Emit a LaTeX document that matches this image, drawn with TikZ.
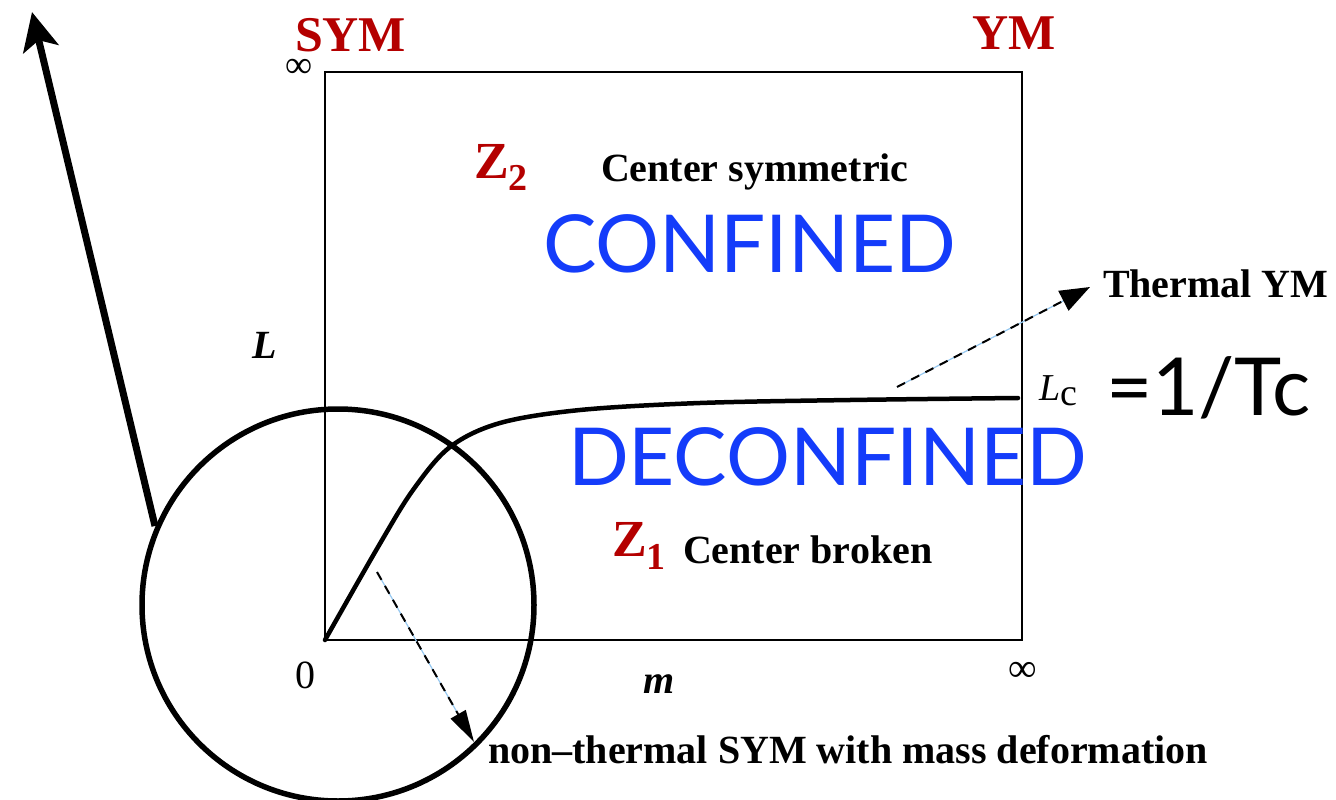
\documentclass[tikz,border=0pt]{standalone}
\usepackage{fontspec}
\setmainfont{Liberation Serif}
\newfontfamily\gill{Lato}
\usetikzlibrary{arrows.meta}
\definecolor{symred}{RGB}{180,0,0}
\definecolor{phblue}{RGB}{20,60,250}
\definecolor{lblue}{RGB}{150,200,240}
\begin{document}
\begin{tikzpicture}[x=1pt,y=-1pt,
  lbl/.style={inner sep=0pt, outer sep=0pt, anchor=base west},
  redlbl/.style={lbl, text=symred, font=\fontsize{50}{50}\selectfont\bfseries},
  blk/.style={lbl, font=\fontsize{40}{40}\selectfont\bfseries},
  plain/.style={lbl, font=\fontsize{40}{40}\selectfont},
  phase/.style={lbl, text=phblue, font=\fontsize{80}{80}\selectfont\gill},
  frame/.style={line width=1.8pt},
  phaseline/.style={line width=4.5pt, line join=round, line cap=round},
  ring/.style={line width=5.5pt},
  bigarrow/.style={line width=7pt, -{Stealth[length=38pt,width=36pt,inset=9pt]}},
  underlay/.style={lblue, line width=1.2pt},
  dasharrow/.style={line width=2pt, dash pattern=on 9pt off 7pt, -{Triangle[length=30pt,width=22pt]}}
]
\useasboundingbox (0,0) rectangle (1336,800);

% frame
\coordinate (o) at (325,640);
\coordinate (tl) at (325,72);
\coordinate (tr) at (1022,72);
\coordinate (br) at (1022,640);
\draw[frame] (o) -- (tl) -- (tr) -- (br) -- cycle;

% labels of the frame
\node[redlbl] (sym) at (295,52) {SYM};
\node[redlbl] (ym) at (972,50) {YM};
\node[plain, anchor=center, font=\fontsize{38}{38}\selectfont] (inftop) at (299,68) {∞};
\node[plain, anchor=center] (infbot) at (1023,672) {∞};
\node[plain, anchor=base] (zero) at (305,688) {0};
\node[blk, font=\fontsize{40}{40}\selectfont\bfseries\itshape] (mlab) at (643,693) {m};
\node[blk, font=\fontsize{40}{40}\selectfont\bfseries\itshape] (llab) at (252,358) {L};

% regions
\node[lbl, text=symred, font=\fontsize{52}{52}\selectfont\bfseries] (z2) at (474,178) {Z\raisebox{-12pt}{\fontsize{38}{38}\selectfont 2}};
\node[blk] (csym) at (601,181) {Center symmetric};
\node[phase] (conf) at (543,272) {CONFINED};
\node[phase] (deconf) at (568,485) {DECONFINED};
\node[lbl, text=symred, font=\fontsize{52}{52}\selectfont\bfseries] (z1) at (612,556) {Z\raisebox{-13pt}{\fontsize{38}{38}\selectfont 1}};
\node[blk] (cbrk) at (683,563) {Center broken};

% phase boundary
\draw[phaseline] plot[smooth, tension=0.55] coordinates {(325,640) (378,547) (413,490) (450,447) (500,423) (580,410) (700,403) (850,400) (1018,398)};
\node[lbl, font=\fontsize{38}{38}\selectfont\itshape] (lc) at (1039,400) {L\raisebox{-5pt}{\upshape c}};
\node[lbl, font=\fontsize{80}{80}\selectfont\gill] (tc) at (1106,415) {=1/Tc};

% thermal YM arrow
\node[blk] (tym) at (1103,297) {Thermal YM};
\coordinate (a1s) at (897,387);
\coordinate (a1e) at (1090,287);
\draw[underlay, shorten >=25pt] (a1s) -- (a1e);
\draw[dasharrow] (a1s) -- (a1e);

% circle and arrows
\coordinate (cc) at (338,605);
\draw[ring] (cc) circle[radius=196];
\coordinate (a2s) at (155,526);
\coordinate (a2e) at (32,12);
\draw[bigarrow] (a2s) -- (a2e);

\node[blk] (nonth) at (488,763) {non–thermal SYM with mass deformation};
\coordinate (a3s) at (377,572);
\coordinate (a3e) at (474,742);
\draw[underlay, shorten >=25pt] (a3s) -- (a3e);
\draw[dasharrow, -{Triangle[length=32pt,width=17pt]}] (a3s) -- (a3e);
\end{tikzpicture}
\end{document}
